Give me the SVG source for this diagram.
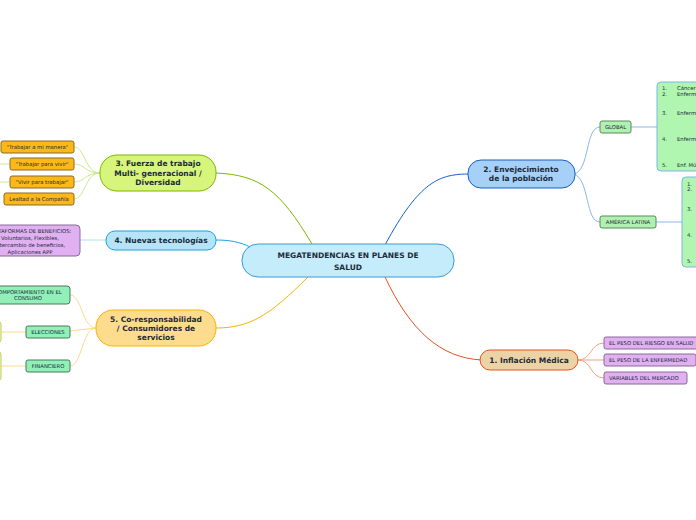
<svg xmlns="http://www.w3.org/2000/svg" width="696" height="520" viewBox="0 0 696 520">
<style>
text{font-family:Verdana,"DejaVu Sans",sans-serif;fill:#1a2a3a}
.m{font-size:7.5px;font-weight:bold;text-anchor:middle}
.s{font-size:5.3px;text-anchor:middle}
.l{font-size:5.3px}
.c{fill:none;stroke-width:1}
</style>
<rect width="696" height="520" fill="#fff"/>
<g id="connectors">
<path class="c" d="M385,245 C420,180 440,174 470,174" stroke="#1560c8" stroke-width="1.5"/>
<path class="c" d="M385,277 C410,330 440,358 482,360" stroke="#e8501e" stroke-width="1.5"/>
<path class="c" d="M312,244 C280,190 260,175 216,173" stroke="#7ab800" stroke-width="1.5"/>
<path class="c" d="M250,247 C240,242 230,240 216,240" stroke="#1aa0e0" stroke-width="1.5"/>
<path class="c" d="M308,277 C270,315 250,328 216,328" stroke="#f5b400" stroke-width="1.5"/>
<g stroke="#8ab8e8"><path class="c" d="M574,174 C590,170 585,127 600,127"/><path class="c" d="M574,174 C590,180 585,222 600,222"/><path class="c" d="M631,127 L657,127"/><path class="c" d="M656,222 L682,222"/></g>
<g stroke="#f5a080"><path class="c" d="M578,360 C592,360 590,343 604,343"/><path class="c" d="M578,360 L604,360"/><path class="c" d="M578,360 C592,360 590,378 604,378"/></g>
<g stroke="#cce890"><path class="c" d="M100,173 C85,173 85,147 74,147"/><path class="c" d="M100,173 C85,173 85,164 74,164"/><path class="c" d="M100,173 C85,173 85,182 74,182"/><path class="c" d="M100,173 C85,173 85,199 74,199"/><path class="c" d="M0,164 L10,164"/><path class="c" d="M0,182 L10,182"/></g>
<path class="c" d="M106,240 L80,240" stroke="#b0e0f5"/>
<g stroke="#ffd890"><path class="c" d="M96,328 C82,328 82,295 70,295"/><path class="c" d="M96,328 L70,331"/><path class="c" d="M96,328 C82,328 82,366 70,366"/><path class="c" d="M0,332 L26,332"/><path class="c" d="M0,366 L26,366"/></g>
</g>
<g id="central"><rect x="242" y="244" width="212" height="33" rx="16" fill="#c5ecfb" stroke="#3a9bd5"/><text class="m" x="348" y="258" font-size="8.5">MEGATENDENCIAS EN PLANES DE</text><text class="m" x="348" y="270" font-size="8.5">SALUD</text></g>
<g id="n2"><rect x="468" y="160" width="107" height="28" rx="13" fill="#a6d0f7" stroke="#1560c8"/><text class="m" x="521" y="172" font-size="7">2. Envejecimiento</text><text class="m" x="521" y="181" font-size="7">de la población</text></g>
<g id="n1"><rect x="480" y="350" width="98" height="20" rx="10" fill="#ecd3a6" stroke="#e8501e"/><text class="m" x="529" y="363" font-size="7">1. Inflación Médica</text></g>
<g id="n3"><rect x="100" y="155" width="116" height="36" rx="17" fill="#d6f57a" stroke="#7ab800"/><text class="m" x="158" y="166" font-size="7">3. Fuerza de trabajo</text><text class="m" x="158" y="176" font-size="7">Multi- generacional /</text><text class="m" x="158" y="185" font-size="7">Diversidad</text></g>
<g id="n4"><rect x="106" y="231" width="110" height="19" rx="9" fill="#b5e4f8" stroke="#1aa0e0"/><text class="m" x="161" y="243" font-size="7">4. Nuevas tecnologías</text></g>
<g id="n5"><rect x="96" y="310" width="120" height="36" rx="17" fill="#fddc8e" stroke="#f5b400"/><text class="m" x="156" y="322" font-size="7">5. Co-responsabilidad</text><text class="m" x="156" y="331" font-size="7">/ Consumidores de</text><text class="m" x="156" y="340" font-size="7">servicios</text></g>
<g id="global"><rect x="600" y="121" width="31" height="12" rx="2" fill="#b0f0b0" stroke="#5a8a5a"/><text class="s" x="615.5" y="129">GLOBAL</text></g>
<g id="global-list"><rect x="657" y="82" width="50" height="89" rx="4" fill="#b0f5b0" stroke="#7ab8e8"/><text class="l" x="662" y="90">1.</text><text class="l" x="677" y="90">Cáncer</text><text class="l" x="662" y="96">2.</text><text class="l" x="677" y="96">Enferm</text><text class="l" x="662" y="115">3.</text><text class="l" x="677" y="115">Enferm</text><text class="l" x="662" y="141">4.</text><text class="l" x="677" y="141">Enferm</text><text class="l" x="662" y="167">5.</text><text class="l" x="677" y="167">Enf. Mú</text></g>
<g id="al"><rect x="600" y="216" width="56" height="12" rx="2" fill="#b0f0b0" stroke="#5a8a5a"/><text class="s" x="628" y="224">AMÉRICA LATINA</text></g>
<g id="al-list"><rect x="682" y="177" width="30" height="90" rx="4" fill="#b0f5b0" stroke="#7ab8e8"/><text class="l" x="687" y="186">1.</text><text class="l" x="687" y="191">2.</text><text class="l" x="687" y="211">3.</text><text class="l" x="687" y="237">4.</text><text class="l" x="687" y="263">5.</text></g>
<g id="i1"><rect x="604" y="337" width="100" height="12" rx="2" fill="#e0b0f0" stroke="#8a6a9a"/><text class="l" x="609" y="345">EL PESO DEL RIESGO EN SALUD</text></g>
<g id="i2"><rect x="604" y="354" width="92" height="12" rx="2" fill="#e0b0f0" stroke="#8a6a9a"/><text class="l" x="609" y="362">EL PESO DE LA ENFERMEDAD</text></g>
<g id="i3"><rect x="604" y="372" width="83" height="12" rx="2" fill="#e0b0f0" stroke="#8a6a9a"/><text class="l" x="609" y="380">VARIABLES DEL MERCADO</text></g>
<g id="f1"><rect x="1" y="141" width="73" height="12" rx="2" fill="#fbb818" stroke="#8a6a2a"/><text class="s" x="37.5" y="149">"Trabajar a mi manera"</text></g>
<g id="f2"><rect x="10" y="158" width="64" height="12" rx="2" fill="#fbb818" stroke="#8a6a2a"/><text class="s" x="42" y="166">"Trabajar para vivir"</text></g>
<g id="f3"><rect x="10" y="176" width="64" height="12" rx="2" fill="#fbb818" stroke="#8a6a2a"/><text class="s" x="42" y="184">"Vivir para trabajar"</text></g>
<g id="f4"><rect x="4" y="193" width="70" height="12" rx="2" fill="#fbb818" stroke="#8a6a2a"/><text class="s" x="39" y="201">Lealtad a la Compañía</text></g>
<g id="t1"><rect x="-20" y="225" width="100" height="31" rx="4" fill="#e0b0f0" stroke="#8a6a9a"/><text class="s" x="30" y="233">PLATAFORMAS DE BENEFICIOS:</text><text class="s" x="30" y="240">Voluntarios, Flexibles,</text><text class="s" x="30" y="247">Intercambio de beneficios,</text><text class="s" x="30" y="254">Aplicaciones APP</text></g>
<g id="c1"><rect x="-20" y="286" width="90" height="18" rx="3" fill="#90f0b8" stroke="#4a7a5a"/><text class="s" x="28" y="294">COMPORTAMIENTO EN EL</text><text class="s" x="28" y="300">CONSUMO</text></g>
<g id="c2"><rect x="26" y="326" width="44" height="12" rx="2" fill="#90f0b8" stroke="#4a7a5a"/><text class="s" x="48" y="334">ELECCIONES</text></g>
<g id="c3"><rect x="26" y="360" width="44" height="12" rx="2" fill="#90f0b8" stroke="#4a7a5a"/><text class="s" x="48" y="368">FINANCIERO</text></g>
<g id="edge-l"><rect x="-10" y="322" width="11" height="20" rx="2" fill="#eefcb0" stroke="#b8d060"/><rect x="-10" y="352" width="11" height="28" rx="2" fill="#eefcb0" stroke="#b8d060"/></g>
</svg>
